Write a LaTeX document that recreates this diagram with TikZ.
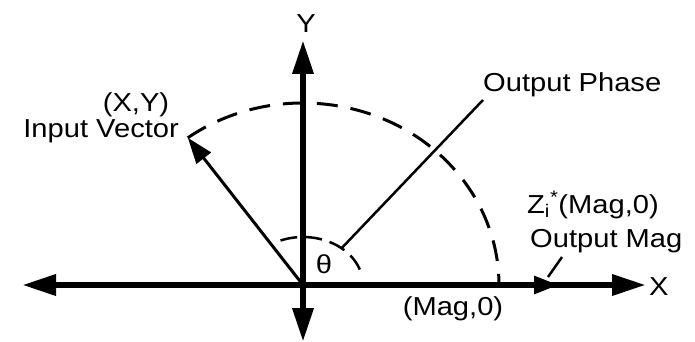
\documentclass[tikz,border=0pt]{standalone}
\usepackage{fontspec}
\setmainfont[FakeStretch=1.12]{Liberation Sans}
\usetikzlibrary{arrows.meta,calc}
\begin{document}
\begin{tikzpicture}[x=1pt,y=-1pt,
  axis/.style={line width=6.5pt,-{Triangle[length=34pt,width=20pt]}},
  vec/.style={line width=3pt,-{Triangle[length=26pt,width=18pt]}},
  thin/.style={line width=2.5pt},
  dasharc/.style={line width=3pt,dash pattern=on 21pt off 13pt},
  smallarc/.style={line width=2.5pt,dash pattern=on 17pt off 8pt},
  lbl/.style={inner sep=0pt,font=\fontsize{26}{30}\selectfont}]
\useasboundingbox (0,0) rectangle (695,342);
% key points
\coordinate (O) at (303,285);
\coordinate (XL) at (22,285);
\coordinate (XR) at (646,285);
\coordinate (YT) at (303,40);
\coordinate (YB) at (303,342);
\coordinate (IV) at ($(O)+(126:196pt and 182pt)$);
\coordinate (MV) at (558,285);
\coordinate (P) at ($(O)+(50:60pt and 48pt)$);
\coordinate (PE) at (483,100);
\coordinate (M1) at (562,257);
\coordinate (M2) at (548,277);
% arcs
\draw[dasharc] (IV) arc[start angle=126,end angle=0,x radius=196pt,y radius=182pt];
\draw[smallarc] ($(O)+(112:60pt and 48pt)$) arc[start angle=112,end angle=13,x radius=60pt,y radius=48pt];
% axes
\draw[axis] (O) -- (XL);
\draw[axis] (O) -- (XR);
\draw[axis] (O) -- (YT);
\draw[axis] (O) -- (YB);
% vectors
\draw[vec] (O) -- (IV);
\draw[line width=3pt,-{Triangle[length=24pt,width=18pt]}] (O) -- (MV);
% pointers
\draw[thin] (P) -- (PE);
\draw[thin] (M1) -- (M2);
% labels
\node[lbl,anchor=base] (ly) at (306,33) {Y};
\node[lbl,anchor=base west] (lx) at (649,295) {X};
\node[lbl,anchor=base] (lxy) at (136,111) {(X,Y)};
\node[lbl,anchor=base east] (liv) at (179,137) {Input Vector};
\node[lbl,anchor=base] (lth) at (324,273) {θ};
\node[lbl,anchor=base] (lmag) at (453,315) {(Mag,0)};
\node[lbl,anchor=base west] (lop) at (483,92) {Output Phase};
\node[lbl,anchor=base west] (lz) at (527,213) {Z\textsubscript{i}\textsuperscript{*}(Mag,0)};
\node[lbl,anchor=base west] (lom) at (530,247) {Output Mag};
\end{tikzpicture}
\end{document}
